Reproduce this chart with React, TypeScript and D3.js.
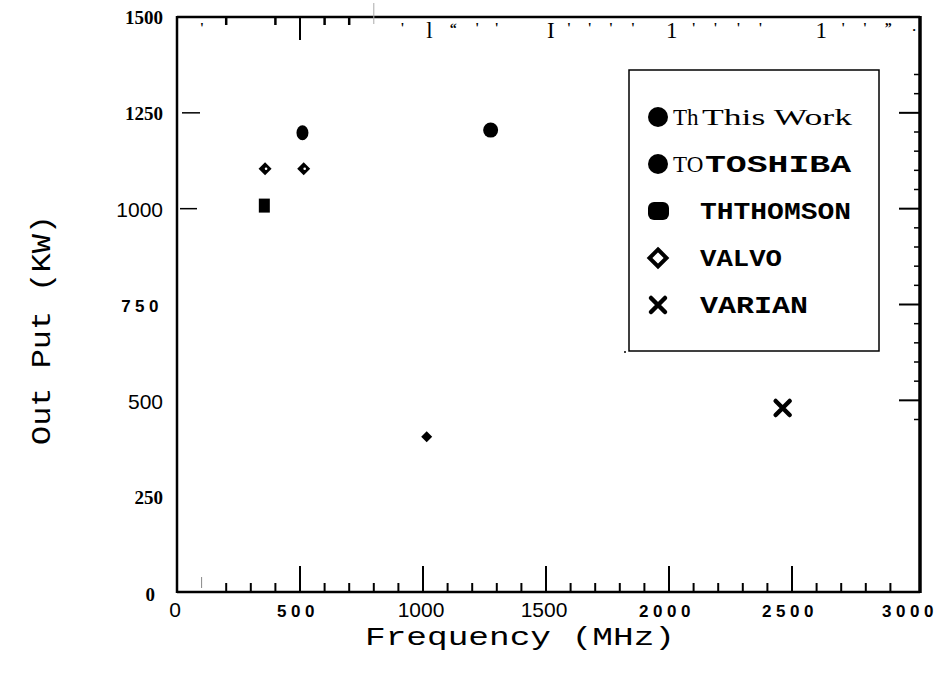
import React from 'react'
import * as d3 from 'd3'

// data
const thisWork = [{ f: 1275, p: 1205 }]
const toshiba = [{ f: 510, p: 1198 }]
const thomson = [{ f: 355, p: 1008 }]
const valvo = [{ f: 358, p: 1104 }, { f: 515, p: 1104 }]
const valvoFilled = [{ f: 1015, p: 405 }]
const varian = [{ f: 2462, p: 480 }]

const yTickLabels = ['0', '250', '500', '750', '1000', '1250', '1500']
const xTickLabels = ['0', '500', '1000', '1500', '2000', '2500', '3000']
const legendNames = ['This Work', 'TOSHIBA', 'THTHOMSON', 'VALVO', 'VARIAN']

// scanned top-axis glyphs (OCR residue of the tick marks)
const topGlyphs = [
  { v: 101, g: "'" }, { v: 916, g: "'" }, { v: 1026, g: 'l' }, { v: 1123, g: '\u201c' },
  { v: 1220, g: "'" }, { v: 1300, g: "'" }, { v: 1520, g: 'I' }, { v: 1593, g: "'" },
  { v: 1678, g: "'" }, { v: 1764, g: "'" }, { v: 1853, g: "'" }, { v: 2011, g: '1' },
  { v: 2100, g: "'" }, { v: 2189, g: "'" }, { v: 2282, g: "'" }, { v: 2372, g: "'" },
  { v: 2619, g: '1' }, { v: 2708, g: "'" }, { v: 2797, g: "'" }, { v: 2891, g: '\u201d' },
]
const topTicks = [200, 400, 600, 700]

const W = 942
const H = 673
const margin = { top: 17, right: 22, bottom: 81, left: 177 }

const MONO = "'Liberation Mono', monospace"
const serifBold = { fontFamily: 'Liberation Serif', fontWeight: 700, fontSize: 19 }
const sansLight = { fontFamily: 'Liberation Sans', fontWeight: 400, fontSize: 21 }
const sansSpaced = { fontFamily: 'Liberation Sans', fontWeight: 700, fontSize: 17, letterSpacing: 4.5 }
const yStyle = { '0': serifBold, '250': serifBold, '500': sansLight, '750': sansSpaced, '1000': sansLight, '1250': serifBold, '1500': serifBold }
const xStyle = { '0': sansLight, '500': sansSpaced, '1000': sansLight, '1500': sansLight, '2000': sansSpaced, '2500': sansSpaced, '3000': sansSpaced }

const diamond = (cx, cy, r) => `M${cx},${cy - r}L${cx + r},${cy}L${cx},${cy + r}L${cx - r},${cy}Z`
const cross = (cx, cy, r) => `M${cx - r},${cy - r}L${cx + r},${cy + r}M${cx + r},${cy - r}L${cx - r},${cy + r}`

const App = () => {
  const x = d3.scaleLinear().domain([0, 3000]).range([margin.left, W - margin.right - 5])
  const y = d3.scaleLinear().domain([0, 1500]).range([H - margin.bottom, margin.top])
  const x0 = x(0), x1 = W - margin.right, y0 = y(0), y1 = y(1500)

  const minorX = d3.range(200, 3000, 100).filter(d => d % 500 !== 0)
  const majorX = [500, 1000, 1500, 2000, 2500]
  const minorRight = d3.range(450, 1400, 50).filter(d => d % 250 !== 0)
  const majorRight = [500, 750, 1000, 1250]

  const lx = 658
  const ly = d3.scalePoint().domain(legendNames).range([117, 305])
  const big = g => /[l1I]/.test(g)

  return (
    <svg width={W} height={H} style={{ position: 'absolute', left: 0, top: 0, background: '#fff' }}>
      {/* frame */}
      <g stroke="#000" fill="none">
        <line x1={x0} x2={x1} y1={y1} y2={y1} strokeWidth={2.5} />
        <line x1={x0} x2={x1} y1={y0} y2={y0} strokeWidth={2.5} />
        <line x1={x0} x2={x0} y1={y1 - 1} y2={y0 + 1} strokeWidth={2.5} />
        <line x1={x1} x2={x1} y1={y1 - 1} y2={y0 + 1} strokeWidth={3.5} />
      </g>

      {/* bottom ticks */}
      <g stroke="#000">
        {minorX.map(d => <line key={d} x1={x(d)} x2={x(d)} y1={y0} y2={y0 - 9} strokeWidth={2} />)}
        {majorX.map(d => <line key={d} x1={x(d)} x2={x(d)} y1={y0} y2={y0 - 26} strokeWidth={2} />)}
        <line x1={x(100)} x2={x(100)} y1={y0 - 4} y2={y0 - 15} stroke="#888" strokeWidth={1} />
      </g>

      {/* top ticks */}
      <g stroke="#000">
        {topTicks.map(d => <line key={d} x1={x(d)} x2={x(d)} y1={y1} y2={y1 + 8} strokeWidth={2.5} />)}
        <line x1={x(500)} x2={x(500)} y1={y1} y2={y1 + 23} strokeWidth={2} />
        <line x1={x(800)} x2={x(800)} y1={y1 - 14} y2={y1 + 7} stroke="#aaa" strokeWidth={1} />
      </g>
      <g fontFamily="Liberation Serif" textAnchor="middle">
        {topGlyphs.map((d, i) => (
          <text key={i} x={x(d.v)} y={big(d.g) ? 38 : 33}
            fontSize={big(d.g) ? 23 : 14} fontWeight={big(d.g) ? 400 : 700}>{d.g}</text>
        ))}
        <text x={x(2996)} y={31} fontSize={13} fontWeight={700}>.</text>
      </g>

      {/* left ticks */}
      <g stroke="#000" strokeWidth={1.5}>
        <line x1={x0 + 5} x2={x0 + 23} y1={y(1250)} y2={y(1250)} />
        <line x1={x0 + 3} x2={x0 + 20} y1={y(1000)} y2={y(1000)} />
      </g>

      {/* right ticks */}
      <g stroke="#000">
        {majorRight.map(d => <line key={d} x1={x1} x2={x1 - 21} y1={y(d)} y2={y(d)} strokeWidth={2} />)}
        {minorRight.map(d => <line key={d} x1={x1} x2={x1 - 6} y1={y(d)} y2={y(d)} strokeWidth={1.5} />)}
      </g>

      {/* y labels */}
      {yTickLabels.map(t => (
        <text key={t} x={t === '0' ? 155 : 163} y={y(+t) + (t === '0' ? 5 : 3)} textAnchor="end"
          dominantBaseline="middle" style={yStyle[t]}>{t}</text>
      ))}

      {/* x labels */}
      {xTickLabels.map(t => (
        <text key={t} x={t === '3000' ? x(+t) - 5 : x(+t) - 2} y={617} textAnchor="middle"
          style={xStyle[t]}>{t}</text>
      ))}

      {/* axis titles */}
      <text x={520} y={645} textAnchor="middle" fontFamily={MONO} fontSize={26}
        textLength={310} lengthAdjust="spacingAndGlyphs">Frequency  (MHz)</text>
      <text transform={`translate(50,330) rotate(-90)`} textAnchor="middle" fontFamily={MONO}
        fontSize={27} textLength={230} lengthAdjust="spacingAndGlyphs">Out Put (KW)</text>

      {/* data */}
      <g fill="#000">
        {thisWork.map((d, i) => <circle key={i} cx={x(d.f)} cy={y(d.p)} r={7.5} />)}
        {toshiba.map((d, i) => <ellipse key={i} cx={x(d.f)} cy={y(d.p)} rx={6} ry={7.5} />)}
        {thomson.map((d, i) => <rect key={i} x={x(d.f) - 5.5} y={y(d.p) - 7} width={11} height={14} />)}
        {valvo.map((d, i) => (
          <g key={i}>
            <path d={diamond(x(d.f), y(d.p), 6.5)} />
            <circle cx={x(d.f) + 1} cy={y(d.p)} r={1.3} fill="#fff" />
          </g>
        ))}
        {valvoFilled.map((d, i) => <path key={i} d={diamond(x(d.f), y(d.p), 5.5)} />)}
        {varian.map((d, i) => <path key={i} d={cross(x(d.f), y(d.p), 7)} stroke="#000" strokeWidth={4.5} strokeLinecap="round" />)}
      </g>

      {/* legend */}
      <rect x={629} y={70} width={250} height={281} fill="none" stroke="#000" strokeWidth={1.5} />
      <circle cx={625} cy={352} r={1} fill="#000" />
      <g>
        <circle cx={lx} cy={ly('This Work')} r={10} />
        <circle cx={lx} cy={ly('TOSHIBA')} r={10} />
        <rect x={lx - 10} y={ly('THTHOMSON') - 9} width={21} height={18} rx={6} />
        <path d={diamond(lx, ly('VALVO'), 8.5)} fill="#fff" stroke="#000" strokeWidth={4} />
        <path d={cross(lx, ly('VARIAN'), 7)} stroke="#000" strokeWidth={4.5} strokeLinecap="round" />
      </g>
      <g fontFamily="Liberation Serif" fontSize={23}>
        <text x={673} y={ly('This Work') + 8}>Th</text>
        <text x={702} y={ly('This Work') + 8} textLength={150} lengthAdjust="spacingAndGlyphs">This Work</text>
        <text x={673} y={ly('TOSHIBA') + 8}>TO</text>
      </g>
      <g fontFamily={MONO} fontWeight={700} fontSize={23}>
        <text x={705} y={ly('TOSHIBA') + 8} textLength={146} lengthAdjust="spacingAndGlyphs">TOSHIBA</text>
        <text x={700} y={ly('THTHOMSON') + 8} textLength={151} lengthAdjust="spacingAndGlyphs">THTHOMSON</text>
        <text x={700} y={ly('VALVO') + 8} textLength={82} lengthAdjust="spacingAndGlyphs">VALVO</text>
        <text x={700} y={ly('VARIAN') + 8} textLength={108} lengthAdjust="spacingAndGlyphs">VARIAN</text>
      </g>
    </svg>
  )
}

export default App
